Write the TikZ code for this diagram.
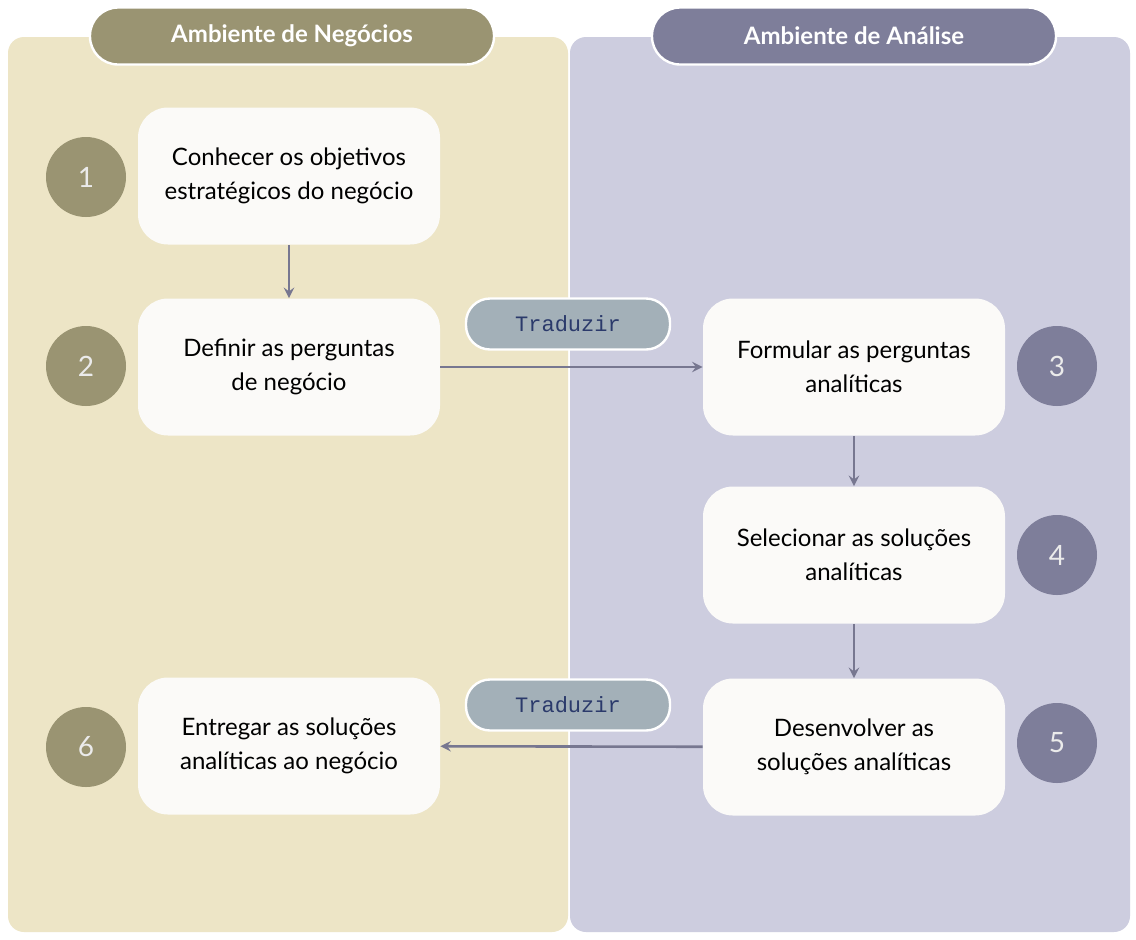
\documentclass[tikz,border=0pt]{standalone}
\usepackage{fontspec}
\setmainfont{Lato}
\setmonofont{Liberation Mono}
\usetikzlibrary{positioning}
\definecolor{bizbg}{HTML}{EDE5C6}
\definecolor{anabg}{HTML}{CDCDDF}
\definecolor{bizhead}{HTML}{9A9472}
\definecolor{anahead}{HTML}{7E7E9A}
\definecolor{boxfill}{HTML}{FBFAF8}
\definecolor{pillfill}{HTML}{A3B0B8}
\definecolor{pilltext}{HTML}{2B3A6B}
\definecolor{arrowcol}{HTML}{777790}
\tikzset{
  panel/.style={rounded corners=8pt, draw=none},
  header/.style={rounded corners=14pt, draw=white, line width=1.2pt, minimum width=202pt, minimum height=28.5pt, text=white, font=\bfseries\fontsize{12}{14}\selectfont},
  stepbox/.style={rounded corners=15pt, fill=boxfill, draw=none, minimum width=151pt, minimum height=68.5pt, align=center, font=\fontsize{12}{17}\selectfont},
  numdot/.style={circle, minimum size=40pt, inner sep=0pt, text=white!92!black, font=\fontsize{14}{14}\selectfont},
  pill/.style={rounded corners=12pt, fill=pillfill, draw=white, line width=1.2pt, minimum width=102pt, minimum height=25.5pt, text=pilltext, font=\ttfamily\fontsize{11}{11}\selectfont},
  flow/.style={->, >=stealth, draw=arrowcol, line width=1.3pt},
}
\begin{document}
\begin{tikzpicture}[x=0.5pt, y=-0.5pt]
\useasboundingbox (0,0) rectangle (1136,939);
\fill[white] (0,0) rectangle (1136,939);
% panels
\fill[panel, bizbg] (8,37) rectangle (568,932);
\fill[panel, anabg] (570,37) rectangle (1130,932);
\node[header, fill=bizhead] (hbiz) at (292,36) {Ambiente de Negócios};
\node[header, fill=anahead] (hana) at (854,36) {Ambiente de Análise};
% steps
\node[stepbox] (s1) at (289,176) {Conhecer os objetivos\\estratégicos do negócio};
\node[stepbox] (s2) at (289,367) {Definir as perguntas\\de negócio};
\node[stepbox] (s6) at (289,746) {Entregar as soluções\\analíticas ao negócio};
\node[stepbox] (s3) at (854,367) {Formular as perguntas\\analíticas};
\node[stepbox] (s4) at (854,555) {Selecionar as soluções\\analíticas};
\node[stepbox] (s5) at (854,747) {Desenvolver as\\soluções analíticas};
% numbers
\node[numdot, fill=bizhead] (n1) at (86,177) {1};
\node[numdot, fill=bizhead] (n2) at (86,366) {2};
\node[numdot, fill=bizhead] (n6) at (86,747) {6};
\node[numdot, fill=anahead] (n3) at (1057,366) {3};
\node[numdot, fill=anahead] (n4) at (1057,555) {4};
\node[numdot, fill=anahead] (n5) at (1057,743) {5};
% translations
\node[pill] (t1) at (568,324) {Traduzir};
\node[pill] (t2) at (568,705) {Traduzir};
% connectors
\draw[flow] (s1) -- (s2);
\draw[flow] (s2) -- (s3);
\draw[flow] (s3) -- (s4);
\draw[flow] (s4) -- (s5);
\draw[flow] (s5) -- (s6);
\end{tikzpicture}
\end{document}
